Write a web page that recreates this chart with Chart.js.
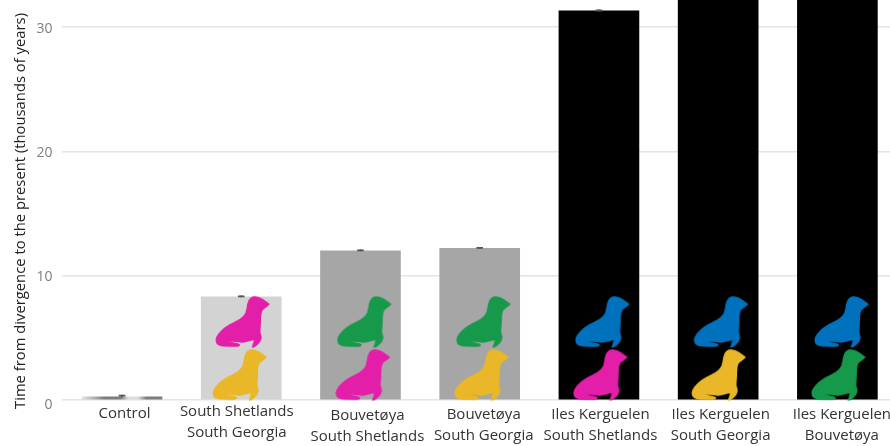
<!DOCTYPE html>
<html>
<head>
<meta charset="utf-8">
<style>
  html, body { margin: 0; padding: 0; background: #fff; overflow: hidden; width: 890px; height: 446px; }
  canvas { display: block; }
</style>
<script src="https://cdn.jsdelivr.net/npm/chart.js@4"></script>
</head>
<body>
<canvas id="chart" width="897" height="446"></canvas>
<script>
// data
const categories = [
  'Control',
  ['South Shetlands', 'South Georgia'],
  ['Bouvetøya', 'South Shetlands'],
  ['Bouvetøya', 'South Georgia'],
  ['Iles Kerguelen', 'South Shetlands'],
  ['Iles Kerguelen', 'South Georgia'],
  ['Iles Kerguelen', 'Bouvetøya']
];
const divergence = [0.25, 8.3, 12.0, 12.2, 31.3, 33.5, 35];
const errors = [0.14, 0.08, 0.08, 0.08, 0.08, 0.08, 0.08];
const yTicks = [0, 10, 20, 30];

// seal icons, x in category units and y in thousands of years
const upperSealX = [1.015, 2.035, 3.034, 4.032, 5.027, 6.038];
const upperSealY = [6.27, 6.27, 6.27, 6.27, 6.27, 6.27];
const upperSealColors = ['#e31ea8', '#17994b', '#17994b', '#0072bd', '#0072bd', '#0072bd'];
const lowerSealX = [0.99, 2.023, 3.017, 4.015, 5.008, 6.012];
const lowerSealY = [2, 2, 2, 2, 2, 2];
const lowerSealColors = ['#e9b728', '#e31ea8', '#e9b728', '#e31ea8', '#e9b728', '#17994b'];

const barColors = ['#999', '#d3d3d3', '#a6a6a6', '#a6a6a6', '#000', '#000', '#000'];

// tick labels sit slightly off centre in the original
const xLabelShift = [[2.5, 3], [-4.5, 1], [7, 5], [4, 4], [1.5, 4], [2.5, 4], [4.5, 4]];
const yLabelShift = [[0, 5], [0, 1], [0, 2], [0, 2]];

// silhouette outline, traced in px on a 54x50 box, doubled points stay sharp
const sealOutline = [
  [54, 7], [54, 7], [50, 4], [45, 0.5], [39, -1], [34, 0], [31, 6], [30, 16], [23.5, 22.5], [13, 27],
  [5, 33], [-0.5, 40], [-0.5, 46], [4, 49.5], [12, 49.5], [23, 50], [25, 46.5], [12, 44.5], [12, 44.5], [22, 45],
  [27, 46], [37, 43], [38, 43.5], [35.5, 50.5], [35.5, 50.5], [38.5, 50.5], [45, 44.5], [46, 39], [44, 36],
  [45, 28], [45, 20], [46, 13], [49.5, 11]
];

function makeSeal(color) {
  const c = document.createElement('canvas');
  c.width = 56;
  c.height = 52;
  const g = c.getContext('2d');
  g.translate(1, 1);
  g.fillStyle = color;
  g.beginPath();
  g.moveTo(sealOutline[0][0], sealOutline[0][1]);
  for (let i = 1; i < sealOutline.length; i++) {
    const p = sealOutline[i];
    const n = sealOutline[(i + 1) % sealOutline.length];
    g.quadraticCurveTo(p[0], p[1], (p[0] + n[0]) / 2, (p[1] + n[1]) / 2);
  }
  g.closePath();
  g.fill();
  return c;
}

function controlGradient(ctx) {
  const left = ctx.chart.scales.x.getPixelForValue(0) - 40;
  if (!isFinite(left)) return barColors[0];
  const g = ctx.chart.ctx.createLinearGradient(left, 0, left + 80, 0);
  g.addColorStop(0, '#e2e2e2');
  g.addColorStop(0.14, '#b5b5b5');
  g.addColorStop(0.28, '#7d7d7d');
  g.addColorStop(0.48, '#7d7d7d');
  g.addColorStop(0.58, '#dedede');
  g.addColorStop(0.7, '#dedede');
  g.addColorStop(0.8, '#7d7d7d');
  g.addColorStop(1, '#7d7d7d');
  return g;
}

const nudgeLabels = {
  id: 'nudgeLabels',
  beforeDraw(chart) {
    const move = (scale, shifts) => {
      scale.getLabelItems().forEach((item, i) => {
        if (item.moved) return;
        item.options.translation[0] += shifts[i][0];
        item.options.translation[1] += shifts[i][1];
        item.moved = true;
      });
    };
    move(chart.scales.x, xLabelShift);
    move(chart.scales.y, yLabelShift);
    // axis title is centred a bit below the plot middle
    const y = chart.scales.y;
    if (!y.titleWrapped) {
      const drawTitle = y.drawTitle;
      y.drawTitle = function () {
        this.ctx.save();
        this.ctx.translate(12, 11);
        drawTitle.call(this);
        this.ctx.restore();
      };
      y.titleWrapped = true;
    }
  }
};

new Chart(document.getElementById('chart'), {
  type: 'bar',
  plugins: [nudgeLabels],
  data: {
    labels: categories,
    datasets: [
      {
        data: divergence,
        backgroundColor: ctx => ctx.dataIndex === 0 ? controlGradient(ctx) : barColors[ctx.dataIndex],
        barThickness: 80,
        grouped: false,
        order: 4
      },
      {
        // error bar stems
        data: divergence.map((v, i) => [v, v + errors[i]]),
        backgroundColor: '#555',
        barThickness: 1,
        grouped: false,
        order: 3
      },
      {
        // error bar caps
        data: divergence.map((v, i) => [v + errors[i] - 0.09, v + errors[i]]),
        backgroundColor: '#555',
        barThickness: 6,
        grouped: false,
        order: 2
      },
      {
        type: 'scatter',
        xAxisID: 'xs',
        data: upperSealX.map((x, i) => ({x: x, y: upperSealY[i]})),
        pointStyle: upperSealColors.map(makeSeal),
        pointRadius: 20,
        clip: false,
        order: 1
      },
      {
        type: 'scatter',
        xAxisID: 'xs',
        data: lowerSealX.map((x, i) => ({x: x, y: lowerSealY[i]})),
        pointStyle: lowerSealColors.map(makeSeal),
        pointRadius: 20,
        clip: false,
        order: 1
      }
    ]
  },
  options: {
    responsive: false,
    devicePixelRatio: 1,
    animation: false,
    layout: { padding: 0, autoPadding: false },
    plugins: { legend: { display: false }, tooltip: { enabled: false } },
    scales: {
      x: {
        grid: { display: false, drawTicks: false },
        border: { display: false },
        ticks: {
          color: '#333',
          maxRotation: 0,
          autoSkip: false,
          padding: 0,
          font: { family: '"Open Sans"', size: 15, lineHeight: 1.4 }
        },
        afterFit: s => { s.height = 46; }
      },
      xs: { type: 'linear', display: false, offset: false, min: -0.5, max: 6.5 },
      y: {
        min: 0,
        max: 32.18,
        afterFit: s => { s.width = 62.4; s.paddingTop = 0; s.paddingBottom = 0; },
        afterBuildTicks: s => { s.ticks = yTicks.map(v => ({value: v})); },
        grid: { color: '#e4e4e4', lineWidth: 1.5, drawTicks: false },
        border: { display: false },
        title: {
          display: true,
          text: 'Time from divergence to the present (thousands of years)',
          color: '#222',
          padding: { top: 0, bottom: 0 },
          font: { family: '"Open Sans"', size: 14.8 }
        },
        ticks: {
          color: '#7f7f7f',
          padding: 10,
          includeBounds: false,
          font: { family: '"Open Sans"', size: 14 }
        }
      }
    }
  }
});
</script>
</body>
</html>
